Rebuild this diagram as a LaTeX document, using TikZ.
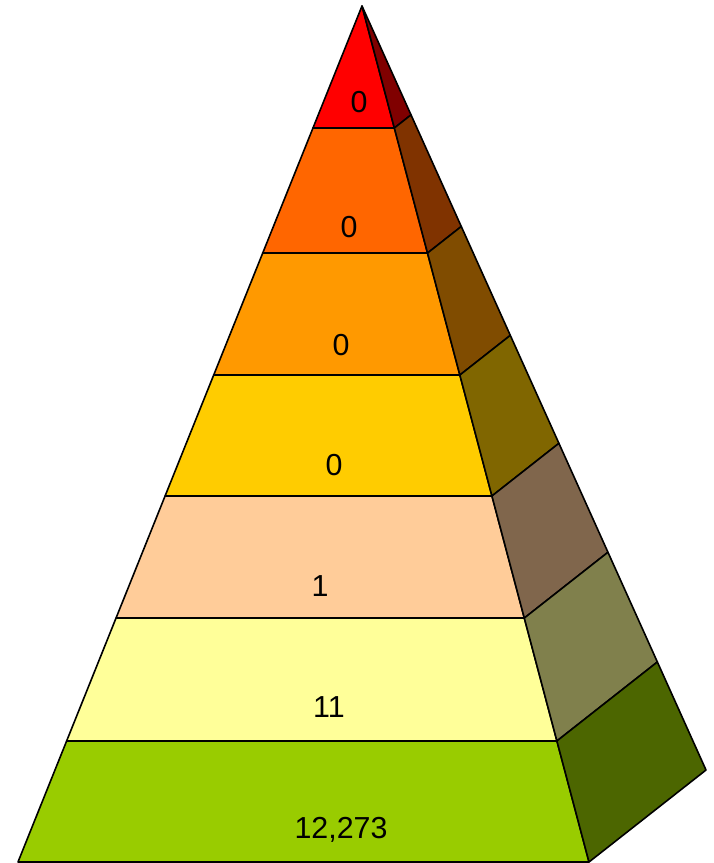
\documentclass[tikz,border=0pt]{standalone}
\usepackage{fontspec}
\setmainfont{Liberation Sans}
\usetikzlibrary{calc}
\definecolor{f1}{HTML}{FF0000}\definecolor{s1}{HTML}{800000}
\definecolor{f2}{HTML}{FF6600}\definecolor{s2}{HTML}{803300}
\definecolor{f3}{HTML}{FF9900}\definecolor{s3}{HTML}{804C00}
\definecolor{f4}{HTML}{FFCC00}\definecolor{s4}{HTML}{806600}
\definecolor{f5}{HTML}{FFCC99}\definecolor{s5}{HTML}{80664C}
\definecolor{f6}{HTML}{FFFF99}\definecolor{s6}{HTML}{80804C}
\definecolor{f7}{HTML}{99CC00}\definecolor{s7}{HTML}{4C6600}
\tikzset{face/.style={draw=black,line width=1.6bp,line join=round},
  lbl/.style={font=\fontsize{30.5}{32}\selectfont,text=black,inner sep=0pt}}
\begin{document}
\begin{tikzpicture}[x=1bp,y=-1bp]
\useasboundingbox (0,0) rectangle (714,863);
\coordinate (A) at (362,6);
\coordinate (BL) at (18,862);
\coordinate (BR) at (589,862);
\coordinate (BS) at (706,770);
\foreach \k/\t in {0/0,1/0.1425,2/0.2886,3/0.4311,4/0.5724,5/0.7150,6/0.8586,7/1}{
  \coordinate (L\k) at ($(A)!\t!(BL)$);
  \coordinate (R\k) at ($(A)!\t!(BR)$);
  \coordinate (S\k) at ($(A)!\t!(BS)$);
}
\foreach \k [evaluate=\k as \p using int(\k-1)] in {1,...,7}{
  \path[face,fill=f\k] (L\p) -- (L\k) -- (R\k) -- (R\p) -- cycle;
  \path[face,fill=s\k] (R\p) -- (R\k) -- (S\k) -- (S\p) -- cycle;
}
\node[lbl] (n1) at (359,102) {0};
\node[lbl] (n2) at (349,227) {0};
\node[lbl] (n3) at (341,345) {0};
\node[lbl] (n4) at (334,465) {0};
\node[lbl] (n5) at (320,586) {1};
\node[lbl] (n6) at (329,707) {11};
\node[lbl] (n7) at (341,830) {12,273};
\end{tikzpicture}
\end{document}
